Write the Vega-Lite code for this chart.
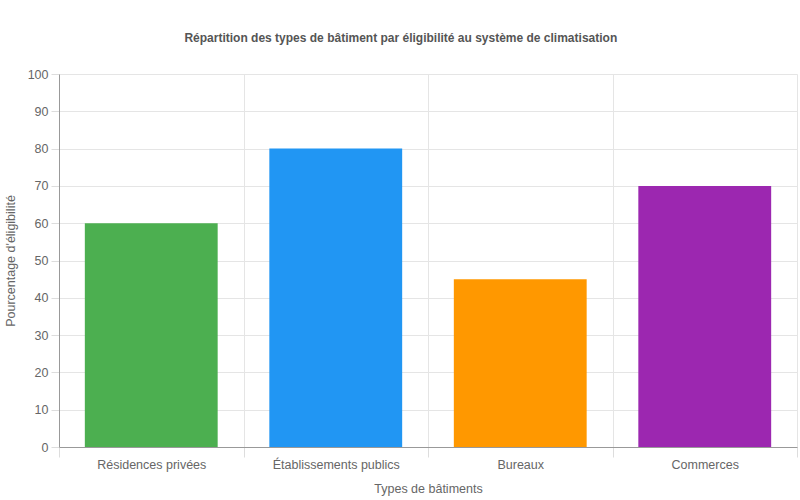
{
  "$schema": "https://vega.github.io/schema/vega-lite/v6.json",
  "autosize": {"type": "none"},
  "padding": {"left": 59, "top": 74, "right": 3, "bottom": 53},
  "width": 738,
  "height": 373,
  "background": "white",
  "title": {
    "text": "Répartition des types de bâtiment par éligibilité au système de climatisation",
    "frame": "bounds",
    "anchor": "middle",
    "font": "Liberation Sans",
    "fontSize": 12,
    "fontWeight": "bold",
    "color": "#555555",
    "offset": 23
  },
  "data": {
    "values": [
      {"type": "Résidences privées", "pct": 60},
      {"type": "Établissements publics", "pct": 80},
      {"type": "Bureaux", "pct": 45},
      {"type": "Commerces", "pct": 70}
    ]
  },
  "mark": {"type": "bar", "width": {"band": 0.72}},
  "encoding": {
    "x": {
      "field": "type",
      "type": "nominal",
      "sort": null,
      "title": "Types de bâtiments",
      "scale": {"paddingInner": 0, "paddingOuter": 0},
      "axis": {
        "labelAngle": 0,
        "tickBand": "extent",
        "tickSize": 10,
        "labelPadding": 1,
        "titlePadding": 12,
        "grid": true
      }
    },
    "y": {
      "field": "pct",
      "type": "quantitative",
      "title": "Pourcentage d'éligibilité",
      "scale": {"domain": [0, 100]},
      "axis": {
        "values": [0, 10, 20, 30, 40, 50, 60, 70, 80, 90, 100],
        "tickSize": 8,
        "labelPadding": 3,
        "titlePadding": 10
      }
    },
    "color": {
      "field": "type",
      "type": "nominal",
      "scale": {
        "domain": ["Résidences privées", "Établissements publics", "Bureaux", "Commerces"],
        "range": ["#4CAF50", "#2196F3", "#FF9800", "#9C27B0"]
      },
      "legend": null
    }
  },
  "config": {
    "view": {"stroke": null},
    "font": "Liberation Sans",
    "axis": {
      "labelFont": "Liberation Sans",
      "labelFontSize": 12.5,
      "labelColor": "#666666",
      "titleFont": "Liberation Sans",
      "titleFontSize": 12.5,
      "titleFontWeight": "normal",
      "titleColor": "#666666",
      "domainColor": "#999999",
      "tickColor": "#dddddd",
      "gridColor": "#e5e5e5"
    }
  }
}
